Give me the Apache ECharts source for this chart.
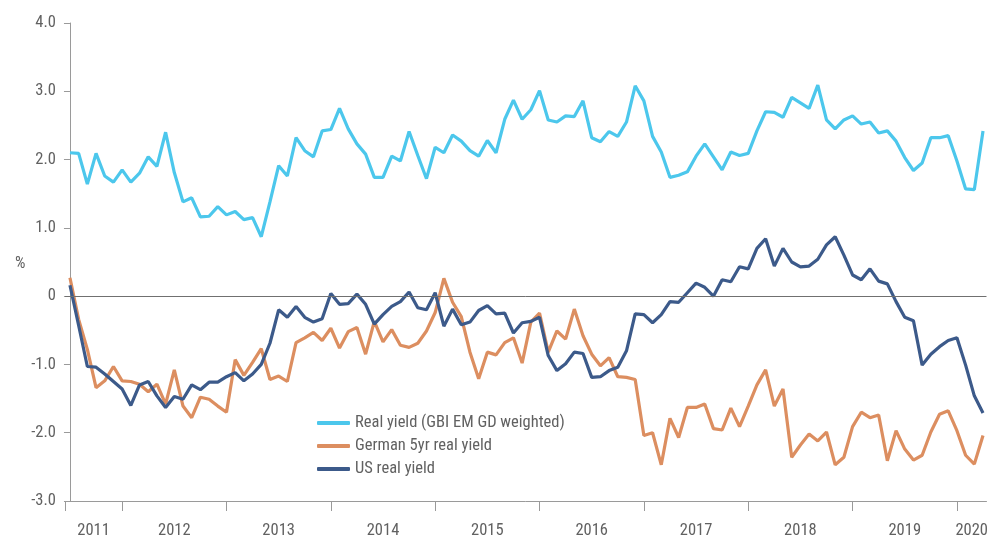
<!DOCTYPE html>
<html><head><meta charset="utf-8">
<script src="https://cdn.jsdelivr.net/npm/echarts@6/dist/echarts.min.js"></script>
<style>html,body{margin:0;padding:0;background:#fff}#c{width:991px;height:539px}</style>
</head><body><div id="c"></div>
<script>
// Monthly observations, first one July 2011, last one April 2020
const startYear = 2011, startMonth = 7;
const years = [2011, 2012, 2013, 2014, 2015, 2016, 2017, 2018, 2019, 2020];
const seriesNames = ['Real yield (GBI EM GD weighted)', 'German 5yr real yield', 'US real yield'];

const emYield = [
  2.10, 2.09, 1.64, 2.09, 1.76, 1.67, 1.85, 1.67, 1.80, 2.04, 1.90, 2.40,
  1.81, 1.38, 1.44, 1.16, 1.17, 1.31, 1.19, 1.24, 1.12, 1.15, 0.87, 1.38,
  1.91, 1.76, 2.32, 2.13, 2.04, 2.42, 2.44, 2.75, 2.45, 2.23, 2.08, 1.74,
  1.74, 2.05, 1.98, 2.41, 2.06, 1.72, 2.18, 2.10, 2.36, 2.27, 2.13, 2.05,
  2.28, 2.10, 2.59, 2.87, 2.59, 2.73, 3.01, 2.58, 2.55, 2.64, 2.63, 2.86,
  2.32, 2.26, 2.41, 2.34, 2.55, 3.08, 2.86, 2.34, 2.11, 1.74, 1.77, 1.82,
  2.05, 2.23, 2.04, 1.85, 2.11, 2.06, 2.09, 2.42, 2.70, 2.69, 2.62, 2.91,
  2.83, 2.75, 3.09, 2.58, 2.45, 2.58, 2.64, 2.52, 2.55, 2.39, 2.42, 2.27,
  2.03, 1.84, 1.95, 2.32, 2.32, 2.35, 1.98, 1.57, 1.56, 2.42
];
const germanYield = [
  0.27, -0.34, -0.78, -1.34, -1.24, -1.03, -1.24, -1.25, -1.29, -1.40, -1.29, -1.58,
  -1.08, -1.61, -1.78, -1.48, -1.51, -1.61, -1.70, -0.93, -1.16, -0.97, -0.77, -1.22,
  -1.17, -1.25, -0.68, -0.61, -0.53, -0.65, -0.47, -0.76, -0.52, -0.46, -0.85, -0.37,
  -0.67, -0.49, -0.72, -0.75, -0.69, -0.51, -0.24, 0.26, -0.09, -0.30, -0.82, -1.21,
  -0.82, -0.86, -0.68, -0.61, -0.98, -0.38, -0.25, -0.82, -0.51, -0.63, -0.19, -0.58,
  -0.85, -1.02, -0.90, -1.18, -1.19, -1.22, -2.04, -2.00, -2.47, -1.79, -2.07, -1.63,
  -1.63, -1.58, -1.94, -1.96, -1.64, -1.91, -1.61, -1.30, -1.08, -1.61, -1.36, -2.36,
  -2.18, -2.02, -2.12, -1.99, -2.47, -2.36, -1.91, -1.70, -1.78, -1.74, -2.41, -1.97,
  -2.24, -2.40, -2.33, -1.99, -1.73, -1.68, -1.97, -2.33, -2.46, -2.04
];
const usYield = [
  0.16, -0.43, -1.03, -1.04, -1.14, -1.25, -1.36, -1.60, -1.30, -1.25, -1.46, -1.63,
  -1.47, -1.51, -1.30, -1.37, -1.26, -1.26, -1.18, -1.12, -1.24, -1.14, -1.00, -0.69,
  -0.20, -0.31, -0.15, -0.31, -0.38, -0.33, 0.04, -0.12, -0.11, 0.03, -0.12, -0.41,
  -0.27, -0.15, -0.08, 0.06, -0.17, -0.20, 0.05, -0.44, -0.19, -0.42, -0.38, -0.21,
  -0.14, -0.26, -0.25, -0.54, -0.39, -0.37, -0.31, -0.87, -1.09, -0.99, -0.82, -0.84,
  -1.19, -1.18, -1.09, -1.04, -0.80, -0.26, -0.27, -0.39, -0.27, -0.08, -0.09, 0.05,
  0.19, 0.13, 0.00, 0.24, 0.21, 0.43, 0.40, 0.70, 0.84, 0.44, 0.70, 0.50,
  0.43, 0.44, 0.54, 0.75, 0.87, 0.60, 0.31, 0.24, 0.40, 0.22, 0.18, -0.08,
  -0.31, -0.36, -1.01, -0.85, -0.74, -0.65, -0.61, -1.01, -1.46, -1.71
];

const FONT = "'Roboto Condensed', 'Liberation Sans Narrow', 'DejaVu Sans Condensed', sans-serif";
const FS = 16.5;
const TXT = '#616161';
const COLORS = ['#4cc7ec', '#dc8e60', '#3c5a8a'];

const X_MIN = -0.57, X_MAX = 105.4;
const firstJan = y => (y - startYear) * 12 - (startMonth - 1);
const tickVals = [X_MIN].concat(years.slice(1).map(firstJan));
const labelVals = years.map(y => {
  const a = Math.max(X_MIN, firstJan(y));
  const b = Math.min(X_MAX, firstJan(y + 1));
  return (a + b) / 2;
});
const toPts = arr => arr.map((v, i) => [i, v]);

const chart = echarts.init(document.getElementById('c'), null, {renderer: 'canvas'});
chart.setOption({
  animation: false,
  backgroundColor: '#fff',
  textStyle: {fontFamily: FONT, color: TXT},
  grid: {left: 65, right: 2, top: 23, bottom: 38, containLabel: false},
  legend: {
    orient: 'vertical', left: 317, top: 414, itemGap: 5, padding: 0,
    itemWidth: 33, itemHeight: 4, icon: 'roundRect',
    textStyle: {fontFamily: FONT, fontSize: FS, lineHeight: 18, color: TXT},
    data: seriesNames
  },
  graphic: [{
    type: 'text', left: 15, top: 255,
    style: {text: '%', fontFamily: FONT, fontSize: FS, fill: TXT}
  }],
  xAxis: {
    type: 'value', min: X_MIN, max: X_MAX,
    splitLine: {show: false},
    axisLine: {onZero: false, lineStyle: {color: '#9a9a9a', width: 1}},
    axisTick: {show: true, customValues: tickVals, length: 10, lineStyle: {color: '#9a9a9a'}},
    axisLabel: {
      customValues: labelVals, margin: 21,
      fontFamily: FONT, fontSize: FS, color: TXT,
      formatter: v => {
        const k = labelVals.findIndex(p => Math.abs(p - v) < 1e-6);
        return k >= 0 ? String(years[k]) : '';
      }
    }
  },
  yAxis: {
    type: 'value', min: -3, max: 4, interval: 1,
    splitLine: {show: false},
    axisLine: {show: true, lineStyle: {color: '#9a9a9a', width: 1}},
    axisTick: {show: true, length: 6, lineStyle: {color: '#9a9a9a'}},
    axisLabel: {
      margin: 9, fontFamily: FONT, fontSize: FS, color: TXT,
      formatter: v => v === 0 ? '0' : v.toFixed(1)
    }
  },
  series: [
    {
      name: seriesNames[0], type: 'line', data: toPts(emYield),
      showSymbol: false, symbol: 'none', color: COLORS[0],
      lineStyle: {width: 3.2, color: COLORS[0]},
      markLine: {
        silent: true, symbol: ['none', 'none'], label: {show: false},
        lineStyle: {color: '#707070', width: 1, type: 'solid'},
        data: [{yAxis: 0}]
      }
    },
    {
      name: seriesNames[1], type: 'line', data: toPts(germanYield),
      showSymbol: false, symbol: 'none', color: COLORS[1],
      lineStyle: {width: 3.2, color: COLORS[1]}
    },
    {
      name: seriesNames[2], type: 'line', data: toPts(usYield),
      showSymbol: false, symbol: 'none', color: COLORS[2],
      lineStyle: {width: 3.2, color: COLORS[2]}
    }
  ]
});
</script>
</body></html>
